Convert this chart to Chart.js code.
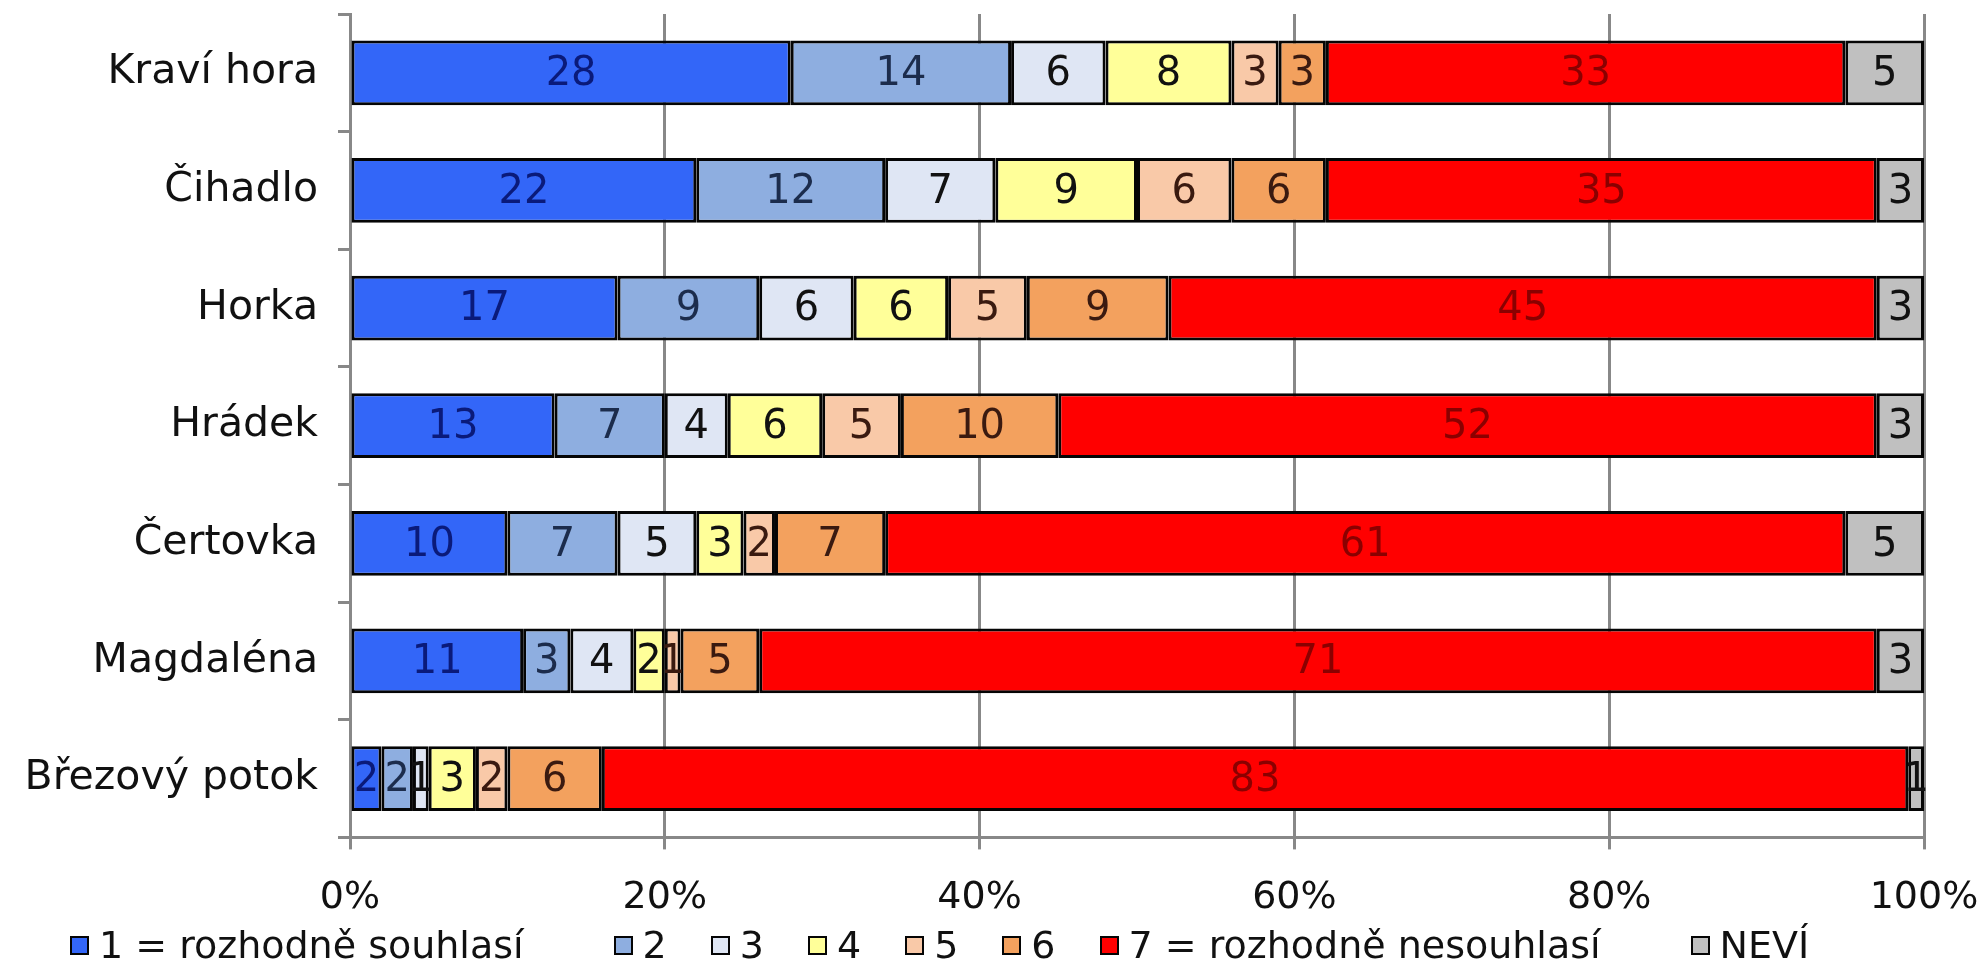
<!DOCTYPE html>
<html>
<head>
<meta charset="utf-8">
<script src="https://cdn.jsdelivr.net/npm/chart.js@4/dist/chart.umd.min.js"></script>
<style>
  html, body { margin: 0; padding: 0; background: #fff; }
  #wrap { width: 1988px; height: 980px; position: relative; }
  #legend {
    position: absolute; left: 70px; top: 922px; height: 46px;
    display: flex; align-items: center;
    font-family: "DejaVu Sans", Verdana, sans-serif; font-size: 38px; color: #111;
    white-space: nowrap;
  }
  #legend .item { display: flex; align-items: center; margin-right: 44px; }
  #legend .item.long { margin-right: 90px; }
  #legend .box { width: 15px; height: 15px; border: 2px solid #050505; margin-right: 10px; }
</style>
</head>
<body>
<div id="wrap"><canvas id="barChart"></canvas><div id="legend"></div></div>
<script>
// data (percent of answers)
var categories = ['Kraví hora', 'Čihadlo', 'Horka', 'Hrádek', 'Čertovka', 'Magdaléna', 'Březový potok'];
var seriesNames = ['1 = rozhodně souhlasí', '2', '3', '4', '5', '6', '7 = rozhodně nesouhlasí', 'NEVÍ'];
var s1 = [28, 22, 17, 13, 10, 11, 2];
var s2 = [14, 12, 9, 7, 7, 3, 2];
var s3 = [6, 7, 6, 4, 5, 4, 1];
var s4 = [8, 9, 6, 6, 3, 2, 3];
var s5 = [3, 6, 5, 5, 2, 1, 2];
var s6 = [3, 6, 9, 10, 7, 5, 6];
var s7 = [33, 35, 45, 52, 61, 71, 83];
var s8 = [5, 3, 3, 3, 5, 3, 1];
var xTicks = [0, 20, 40, 60, 80, 100];

var fills = ['#3366f8', '#8eaee0', '#dfe6f4', '#ffff99', '#f9c9a8', '#f3a15e', '#ff0000', '#c0c0c0'];
var labelColors = ['#0a1a7a', '#1c2c4c', '#111', '#111', '#3a1a10', '#3a1a10', '#8a0000', '#111'];
var allSeries = [s1, s2, s3, s4, s5, s6, s7, s8];

var font = '"DejaVu Sans", Verdana, sans-serif';

var datasets = [];
for (var i = 0; i < allSeries.length; i++) {
  datasets.push({
    label: seriesNames[i],
    data: allSeries[i],
    backgroundColor: fills[i],
    borderColor: '#050505',
    borderWidth: 3,
    borderSkipped: false,
    categoryPercentage: 1.0,
    barPercentage: 0.55
  });
}

// legend below the plot, Excel style (wider gap after the long labels)
var legendEl = document.getElementById('legend');
seriesNames.forEach(function(name, i) {
  var item = document.createElement('div');
  item.className = 'item' + (name.length > 5 ? ' long' : '');
  var box = document.createElement('div');
  box.className = 'box';
  box.style.background = fills[i];
  var txt = document.createElement('span');
  txt.textContent = name;
  item.appendChild(box);
  item.appendChild(txt);
  legendEl.appendChild(item);
});

// numbers in the middle of each segment
var barLabels = {
  id: 'barLabels',
  afterDatasetsDraw: function(chart) {
    var ctx = chart.ctx;
    ctx.save();
    ctx.font = '40px ' + font;
    ctx.textAlign = 'center';
    ctx.textBaseline = 'middle';
    chart.data.datasets.forEach(function(ds, i) {
      var meta = chart.getDatasetMeta(i);
      meta.data.forEach(function(bar, j) {
        var v = ds.data[j];
        if (!v) return;
        var p = bar.getProps(['x', 'y', 'base'], true);
        ctx.fillStyle = labelColors[i];
        ctx.fillText(String(v), (p.x + p.base) / 2, p.y + 2);
      });
    });
    ctx.restore();
  }
};

var ctx = document.getElementById('barChart').getContext('2d');
window.myBar = new Chart(ctx, {
  type: 'bar',
  data: { labels: categories, datasets: datasets },
  plugins: [barLabels],
  options: {
    indexAxis: 'y',
    responsive: true,
    maintainAspectRatio: false,
    animation: false,
    devicePixelRatio: 1,
    layout: { padding: { left: 28, right: 64, top: 14, bottom: 33 } },
    plugins: {
      tooltip: { enabled: false },
      legend: { display: false }
    },
    scales: {
      x: {
        stacked: true,
        min: 0,
        max: 100,
        afterBuildTicks: function(scale) {
          scale.ticks = xTicks.map(function(v) { return { value: v }; });
        },
        afterFit: function(scale) {
          scale.paddingLeft = 0;
          scale.paddingRight = 0;
        },
        ticks: {
          font: { family: font, size: 38 },
          color: '#111',
          padding: 26,
          maxRotation: 0,
          autoSkip: false,
          callback: function(v) { return v + '%'; }
        },
        grid: { color: '#888', lineWidth: 3, tickLength: 12 },
        border: { color: '#888', width: 3 }
      },
      y: {
        stacked: true,
        afterFit: function(scale) {
          scale.width = 322;
          scale.paddingTop = 0;
          scale.paddingBottom = 0;
        },
        ticks: {
          font: { family: font, size: 41 },
          color: '#111',
          padding: 20
        },
        grid: { offset: true, drawOnChartArea: false, color: '#888', lineWidth: 3, tickLength: 12 },
        border: { color: '#888', width: 3 }
      }
    }
  }
});
</script>
</body>
</html>
